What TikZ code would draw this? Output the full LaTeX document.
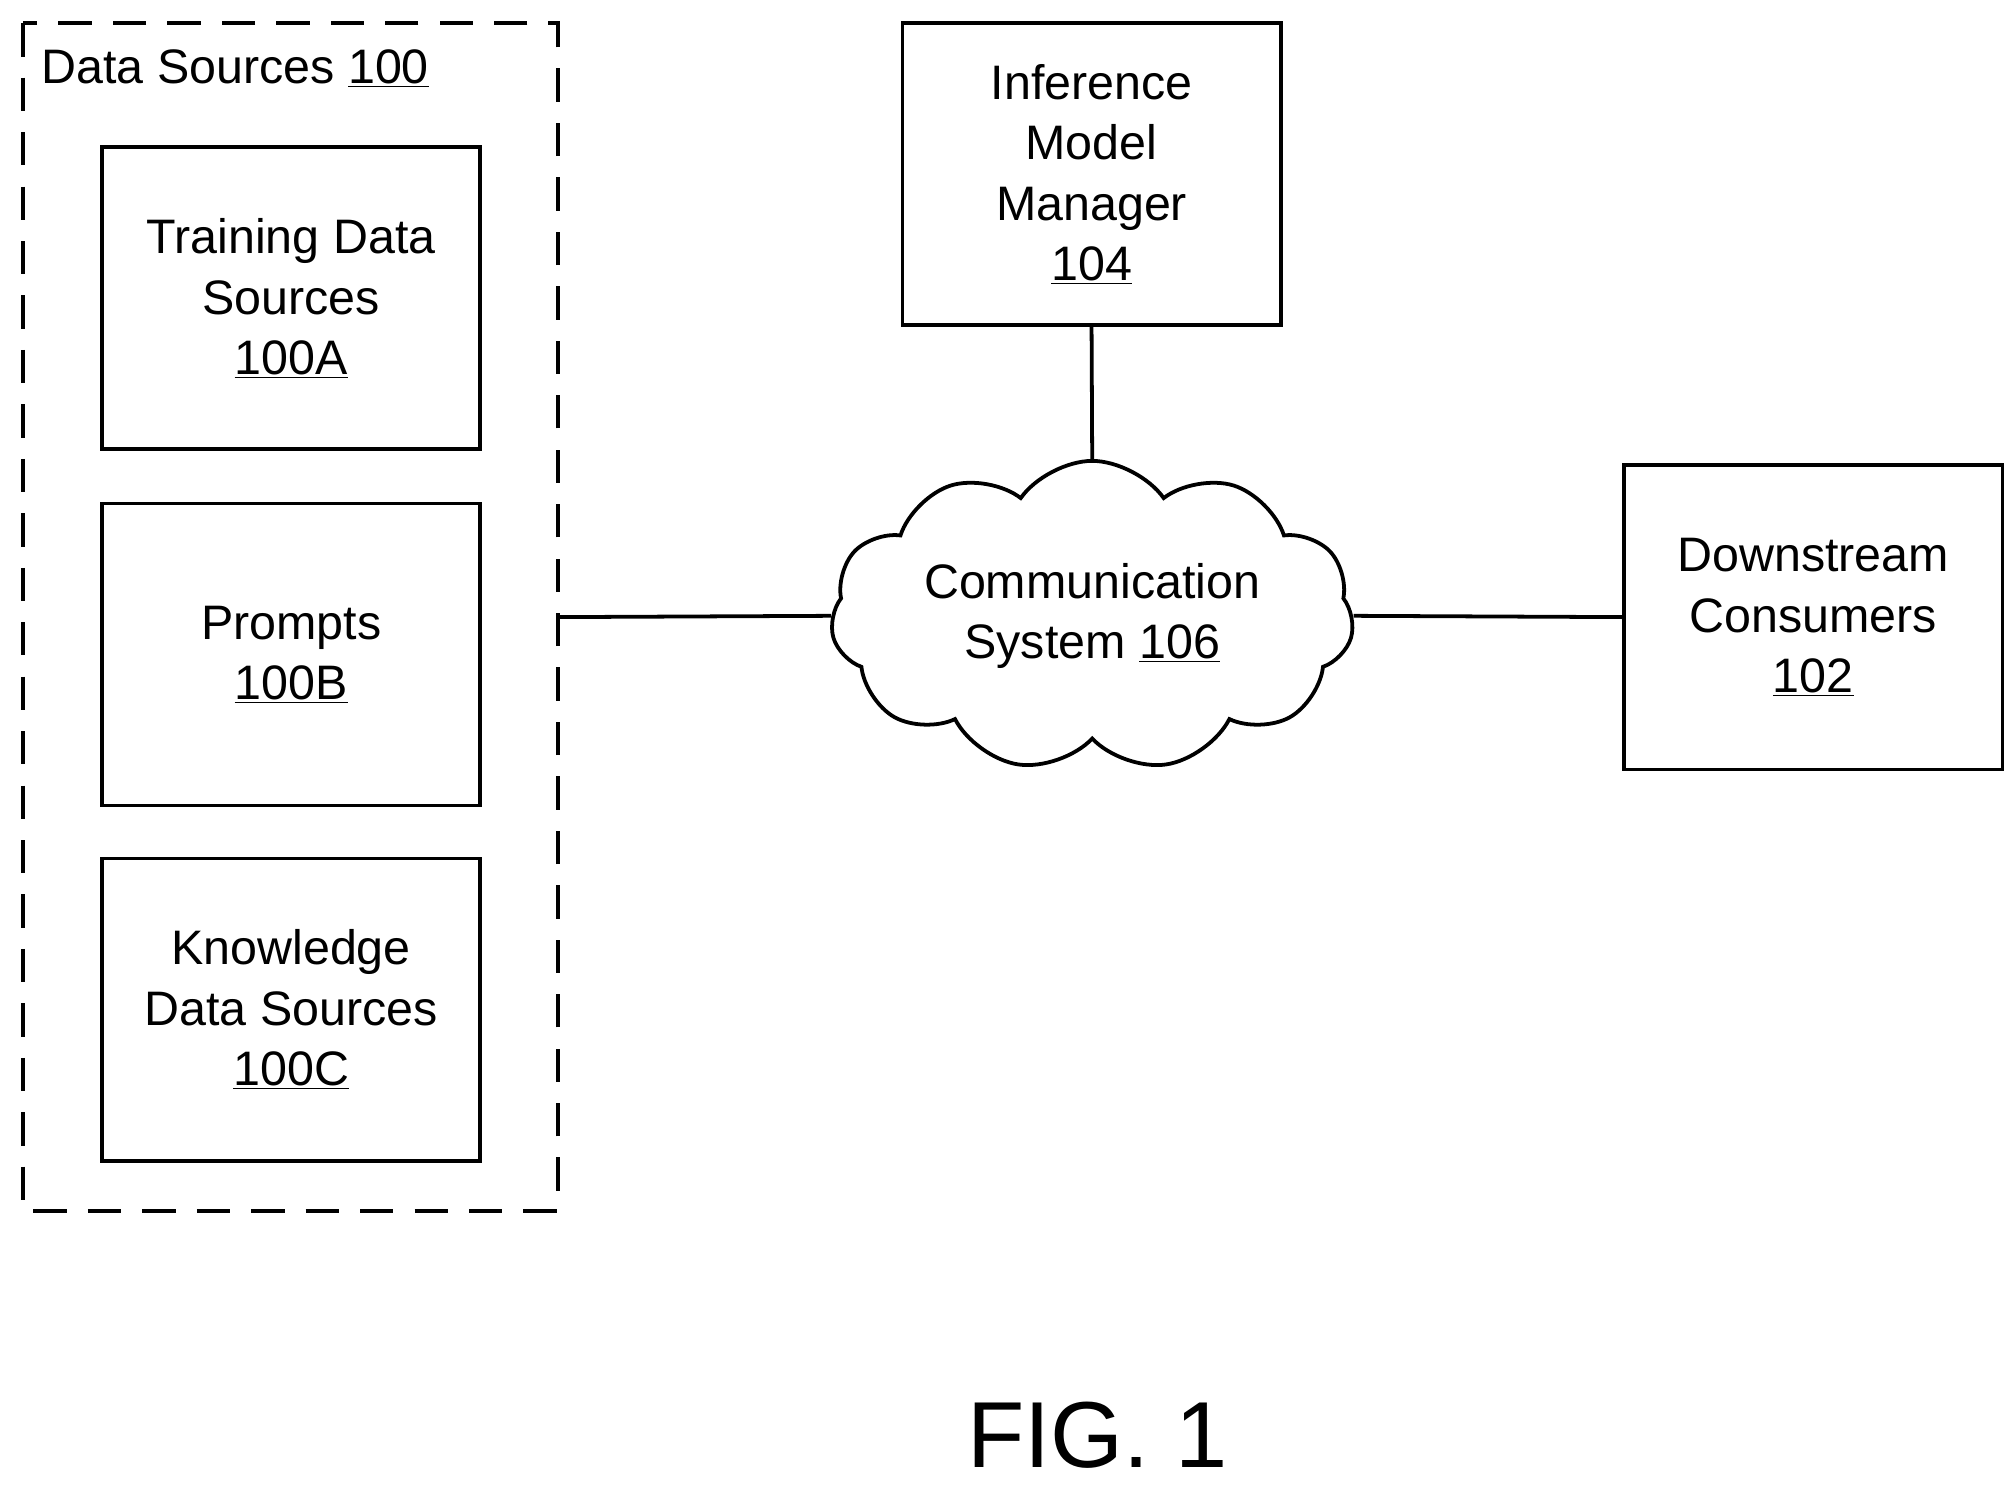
\documentclass[tikz,border=0pt]{standalone}
\usepackage{fontspec}
\setmainfont{Liberation Sans}
\usetikzlibrary{shapes.symbols}
\begin{document}
\begin{tikzpicture}[x=0.03cm,y=-0.03cm,
  box/.style={draw,line width=2.5pt,minimum width=293*0.03cm,minimum height=234*0.03cm,align=center,inner sep=0pt},
  txt/.style={font=\fontsize{32}{40}\selectfont},
  ln/.style={line width=2.5pt}]
\useasboundingbox (0,0) rectangle (1560,1157);
\draw[ln,dash pattern=on 22pt off 14pt] (18,18) rectangle (432,938);
\node[txt,anchor=west] (ttl) at (28,53) {Data Sources \underline{100}};
\node[box,txt] (a) at (225.5,231) {Training Data\\Sources\\\underline{100A}};
\node[box,txt] (b) at (225.5,507) {Prompts\\\underline{100B}};
\node[box,txt] (c) at (225.5,782) {Knowledge\\Data Sources\\\underline{100C}};
\node[box,txt] (im) at (845.5,135) {Inference\\Model\\Manager\\\underline{104}};
\node[box,txt,minimum height=236*0.03cm] (ds) at (1404.5,478) {Downstream\\Consumers\\\underline{102}};
\node[cloud,draw,ln,cloud puffs=11,cloud puff arc=110,aspect=1.9,minimum width=405*0.03cm,minimum height=215*0.03cm,txt,align=center,inner sep=0pt] (cs) at (846,477) {Communication\\System \underline{106}};
\coordinate (dr) at (432,478);
\draw[ln] (dr) -- (cs.west);
\draw[ln] (cs.east) -- (ds.west);
\draw[ln] (im.south) -- (cs.north);
\node[font=\fontsize{62}{66}\selectfont] (fig) at (850,1112) {FIG. 1};
\end{tikzpicture}
\end{document}
